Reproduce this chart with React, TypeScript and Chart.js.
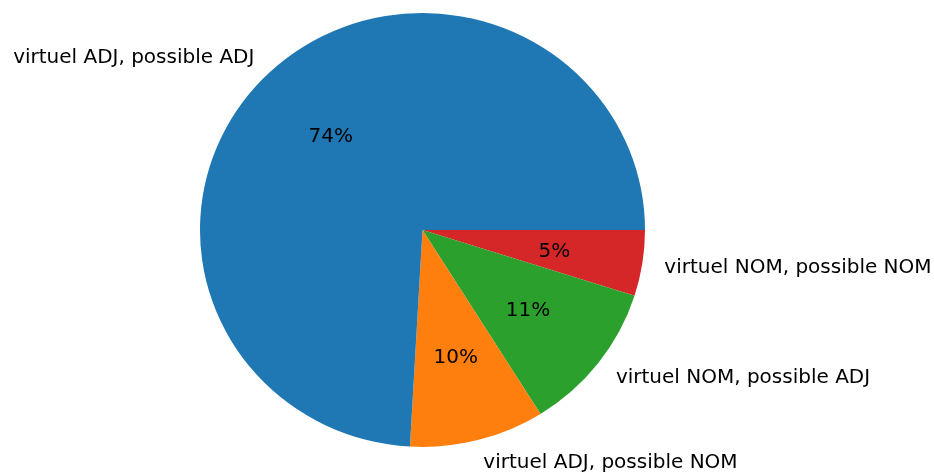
import React, { useEffect, useRef } from "react";
import { Chart, registerables } from "chart.js";

Chart.register(...registerables);

const labels = [
  "virtuel ADJ, possible ADJ",
  "virtuel ADJ, possible NOM",
  "virtuel NOM, possible ADJ",
  "virtuel NOM, possible NOM",
];
const values = [74.1, 9.8, 11.2, 4.9];
const colors = ["#1f77b4", "#ff7f0e", "#2ca02c", "#d62728"];

const SY = 0.975; // slight vertical squash seen in the reference
const FONT = '20px "DejaVu Sans"';
const TEXT_DY = 1.5;

export default function App() {
  const ref = useRef<HTMLCanvasElement | null>(null);

  useEffect(() => {
    if (!ref.current) return;
    const total = values.reduce((a, b) => a + b, 0);
    // Chart.js draws clockwise; reverse to mimic counter-clockwise order from 3 o'clock
    const rLabels = [...labels].reverse();
    const rValues = [...values].reverse();
    const rColors = [...colors].reverse();

    const piePlugin = {
      id: "mplPie",
      beforeDatasetsDraw(chart: any) {
        const arc = chart.getDatasetMeta(0).data[0];
        if (!arc) return;
        const ctx = chart.ctx;
        ctx.save();
        ctx.translate(arc.x, arc.y);
        ctx.scale(1, SY);
        ctx.translate(-arc.x, -arc.y);
      },
      afterDatasetsDraw(chart: any) {
        const ctx = chart.ctx;
        ctx.restore();
        const meta = chart.getDatasetMeta(0);
        ctx.save();
        ctx.font = FONT;
        ctx.fillStyle = "#000";
        ctx.textBaseline = "middle";
        meta.data.forEach((el: any, i: number) => {
          const p = el.getProps(["x", "y", "startAngle", "endAngle", "outerRadius"], true);
          const mid = (p.startAngle + p.endAngle) / 2;
          const c = Math.cos(mid);
          const s = Math.sin(mid);
          // outside label
          const lx = p.x + 1.1 * p.outerRadius * c;
          const ly = p.y + 1.1 * p.outerRadius * s * SY + TEXT_DY;
          ctx.textAlign = c >= 0 ? "left" : "right";
          ctx.fillText(rLabels[i], lx, ly);
          // percentage
          const px = p.x + 0.6 * p.outerRadius * c;
          const py = p.y + 0.6 * p.outerRadius * s * SY + TEXT_DY;
          ctx.textAlign = "center";
          ctx.fillText(Math.round((rValues[i] / total) * 100) + "%", px, py);
        });
        ctx.restore();
      },
    };

    const chart = new Chart(ref.current, {
      type: "pie",
      data: {
        labels: rLabels,
        datasets: [
          {
            data: rValues,
            backgroundColor: rColors,
            borderWidth: 0,
          },
        ],
      },
      options: {
        animation: false,
        responsive: false,
        rotation: 90,
        layout: { padding: { top: 7.5, bottom: 20.5, left: 122.5, right: 211.5 } },
        plugins: {
          legend: { display: false },
          tooltip: { enabled: false },
        },
      },
      plugins: [piePlugin],
    });
    return () => chart.destroy();
  }, []);

  return (
    <div style={{ position: "fixed", left: 0, top: 0, width: 934, height: 473, background: "#fff" }}>
      <canvas ref={ref} width={934} height={473} style={{ width: 934, height: 473 }} />
    </div>
  );
}
